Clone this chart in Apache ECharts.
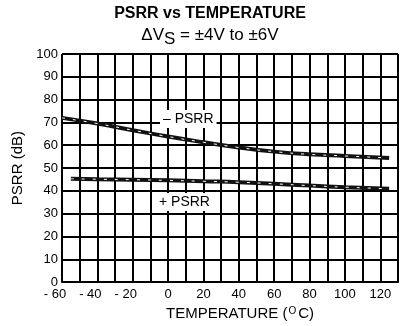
<!DOCTYPE html>
<html>
<head>
<meta charset="utf-8">
<script src="https://cdn.jsdelivr.net/npm/echarts@6/dist/echarts.min.js"></script>
<style>
  html, body { margin: 0; padding: 0; background: #fff; }
  #chart { width: 401px; height: 326px; }
</style>
</head>
<body>
<div id="chart"></div>
<script>
// Temperature (°C) sample points and PSRR readings (dB)
const negTemp = [-60, -40, -20, 0, 20, 40, 60, 80, 100, 125];
const negPsrr = [72, 69.5, 66.6, 63.8, 61.3, 59.0, 57.2, 56.0, 55.3, 54.4];
const posTemp = [-55, -40, -20, 0, 20, 40, 60, 80, 100, 125];
const posPsrr = [45.3, 45.1, 44.9, 44.6, 44.2, 43.8, 43.1, 42.3, 41.6, 40.9];

// Tick labels shown on the temperature axis
const xTickLabels = [-60, -40, -20, 0, 20, 40, 60, 80, 100, 120];

const FONT = '"Liberation Sans", Arial, Helvetica, sans-serif';

const pairs = (xs, ys) => xs.map((x, i) => [x, ys[i]]);
const negData = pairs(negTemp, negPsrr);
const posData = pairs(posTemp, posPsrr);

function curve(name, data) {
  return [
    {
      name: name,
      type: 'line',
      data: data,
      smooth: true,
      symbol: 'none',
      lineStyle: { color: '#111', width: 4 },
      z: 3
    },
    {
      name: name + ' core',
      type: 'line',
      data: data,
      smooth: true,
      symbol: 'none',
      lineStyle: { color: '#fff', width: 1, type: [3, 8] },
      z: 4
    }
  ];
}

const chart = echarts.init(document.getElementById('chart'), null, { renderer: 'canvas' });

chart.setOption({
  animation: false,
  backgroundColor: '#fff',
  textStyle: { fontFamily: FONT, color: '#000' },
  title: [
    {
      text: 'PSRR vs TEMPERATURE',
      left: 205,
      top: 1,
      textAlign: 'center',
      textStyle: { fontFamily: FONT, fontSize: 16, fontWeight: 'bold', color: '#000' }
    },
    {
      text: '{a|ΔV}{s|S}{a| = ±4V to ±6V}',
      left: 205,
      top: 22,
      textAlign: 'center',
      textStyle: {
        fontFamily: FONT,
        fontSize: 17,
        fontWeight: 'normal',
        color: '#000',
        rich: {
          a: { fontFamily: FONT, fontSize: 17, fontWeight: 'normal', lineHeight: 18, verticalAlign: 'top', color: '#000' },
          s: { fontFamily: FONT, fontSize: 17, fontWeight: 'normal', lineHeight: 18, verticalAlign: 'top', padding: [4, 0, 0, 0], color: '#000' }
        }
      }
    }
  ],
  grid: { left: 62, top: 54, right: 0, bottom: 43, containLabel: false },
  xAxis: {
    type: 'value',
    min: -60,
    max: 130,
    interval: 10,
    name: '{n|TEMPERATURE (}{u|O}{n|C)}',
    nameLocation: 'middle',
    nameGap: 22,
    nameTextStyle: {
      padding: [0, 0, 0, 20],
      rich: {
        n: { fontFamily: FONT, fontSize: 15, lineHeight: 17, verticalAlign: 'top', color: '#000' },
        u: { fontFamily: FONT, fontSize: 10, lineHeight: 17, verticalAlign: 'top', padding: [0, 2, 0, 1], color: '#000' }
      }
    },
    axisLine: { show: true, onZero: false, lineStyle: { color: '#000', width: 2 } },
    axisTick: { show: false },
    splitLine: { show: true, lineStyle: { color: '#000', width: 2 } },
    axisLabel: {
      margin: 6,
      fontFamily: FONT,
      fontSize: 13,
      color: '#000',
      showMaxLabel: true,
      formatter: function (v) {
        if (xTickLabels.indexOf(v) < 0) return '';
        if (v < 0) return '{m|- ' + Math.abs(v) + '}';
        return '{p|' + v + '}';
      },
      rich: {
        m: { fontFamily: FONT, fontSize: 13, color: '#000', padding: [0, 14, 0, 0] },
        p: { fontFamily: FONT, fontSize: 13, color: '#000' }
      }
    }
  },
  yAxis: {
    type: 'value',
    min: 0,
    max: 100,
    interval: 10,
    name: 'PSRR (dB)',
    nameLocation: 'middle',
    nameRotate: 90,
    nameGap: 37,
    nameTextStyle: { fontFamily: FONT, fontSize: 15, color: '#000' },
    axisLine: { show: true, lineStyle: { color: '#000', width: 2 } },
    axisTick: { show: true, length: 3, lineStyle: { color: '#000', width: 2 } },
    splitLine: { show: true, lineStyle: { color: '#000', width: 2 } },
    axisLabel: { margin: 4, fontFamily: FONT, fontSize: 13, color: '#000' }
  },
  series: [].concat(curve('−PSRR', negData), curve('+PSRR', posData)),
  graphic: [
    {
      type: 'text',
      left: 160,
      top: 110,
      z: 10,
      style: {
        text: '– PSRR',
        font: '14px ' + FONT,
        fill: '#000',
        backgroundColor: '#fff',
        padding: [2, 3, 2, 3]
      }
    },
    {
      type: 'text',
      left: 155,
      top: 193,
      z: 10,
      style: {
        text: '+ PSRR',
        font: '14px ' + FONT,
        fill: '#000',
        backgroundColor: '#fff',
        padding: [2, 4, 2, 4]
      }
    }
  ]
});
</script>
</body>
</html>
